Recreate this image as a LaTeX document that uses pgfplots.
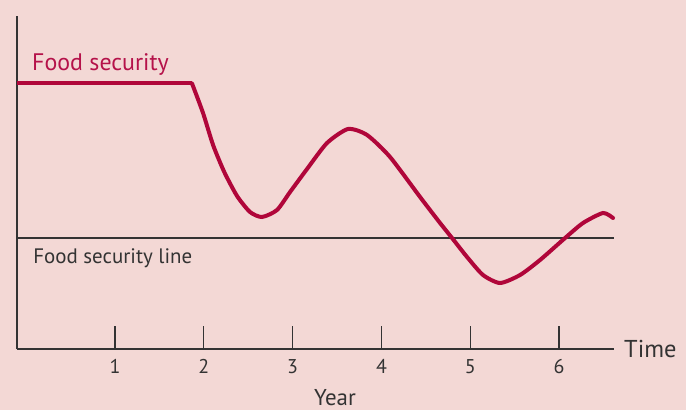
\documentclass[border=0pt]{standalone}
\usepackage{pgfplots}
\pgfplotsset{compat=1.18}
\usepackage{fontspec}
\setmainfont{PT Sans}
\definecolor{bgpink}{HTML}{F3D8D5}
\definecolor{curvered}{HTML}{B0063A}
\definecolor{labred}{HTML}{B5124A}
\definecolor{axgray}{HTML}{333333}
\begin{document}
\begin{tikzpicture}
\fill[bgpink] (-17bp,-61bp) rectangle (669bp,349bp);
\path[use as bounding box] (-17bp,-61bp) rectangle (669bp,349bp);
\begin{axis}[
  at={(0,0)}, anchor=south west,
  scale only axis,
  width=597bp, height=333bp,
  xmin=-0.104, xmax=6.619,
  ymin=0, ymax=333,
  axis lines=left,
  axis line style={-, axgray, line width=1.5bp},
  xtick={1,2,3,4,5,6},
  ytick=\empty,
  major tick length=23bp,
  tick align=inside,
  tick style={axgray, line width=1.3bp},
  /pgf/number format/assume math mode=true,
  xticklabel style={font=\fontsize{20}{22}\selectfont, text=axgray, yshift=-7bp},
  clip=false,
]
\addplot[axgray, line width=1.4bp] coordinates {(-0.104,111) (6.619,111)};
\addplot[curvered, line width=4bp, line join=round] coordinates {(-0.104,265.5) (1.867,265.5)};
\addplot[curvered, line width=4bp, smooth, tension=0.4, line cap=round] coordinates {
(1.867,265.5) (1.991,236) (2.104,204) (2.230,177) (2.374,153) (2.520,137) (2.655,132)
(2.824,139) (2.971,157) (3.162,180) (3.387,206) (3.624,220) (3.838,214) (4.097,192)
(4.435,152) (4.660,126) (4.795,111) (4.964,92) (5.144,74) (5.336,66) (5.561,74)
(5.786,89) (6.068,111) (6.270,126) (6.495,136) (6.608,131)};
\node[anchor=base west, text=labred, font=\fontsize{24}{26}\selectfont, inner sep=0pt] at (axis cs:0.065,278) {Food security};
\node[anchor=base west, text=axgray, font=\fontsize{21}{24}\selectfont, inner sep=0pt] at (axis cs:0.077,86) {Food security line};
\node[anchor=base, text=axgray, font=\fontsize{23}{24}\selectfont, inner sep=0pt] at (axis cs:3.477,-56) {Year};
\node[anchor=base west, text=axgray, font=\fontsize{24.5}{26}\selectfont, inner sep=0pt] at (axis cs:6.732,-8) {Time};
\end{axis}
\end{tikzpicture}
\end{document}
